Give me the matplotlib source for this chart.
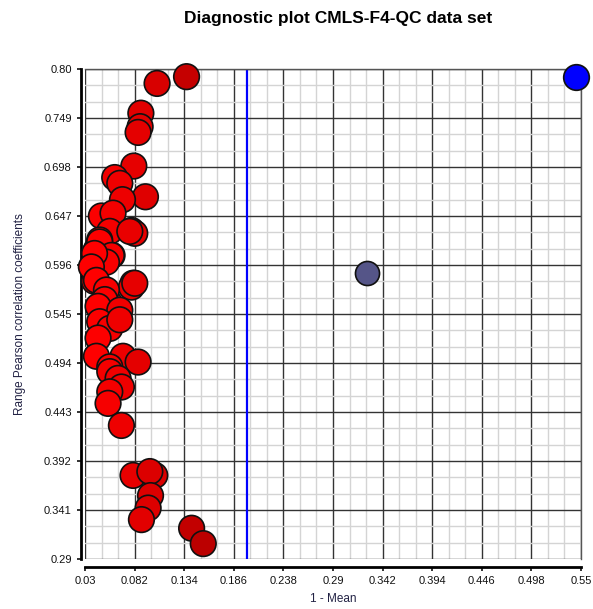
import numpy as np
import matplotlib.pyplot as plt
from matplotlib.ticker import FixedLocator, AutoMinorLocator

# 1 - Mean / Range Pearson correlation coefficients, per sample
mean_red = [0.1365, 0.1056, 0.0886, 0.0878, 0.0857, 0.0812, 0.0612, 0.0665,
            0.0934, 0.0693, 0.0472, 0.0594, 0.0787, 0.0822, 0.0560, 0.0454,
            0.0420, 0.0489, 0.0584, 0.0402, 0.0804, 0.0787, 0.0400, 0.0507,
            0.0560, 0.0770, 0.0454, 0.0577, 0.0525, 0.0400, 0.0367, 0.0822,
            0.0420, 0.0525, 0.0507, 0.0437, 0.0665, 0.0454, 0.0560, 0.0665,
            0.0437, 0.0420, 0.0699, 0.0857, 0.0560, 0.0560, 0.0647, 0.0682,
            0.0560, 0.0542, 0.0682, 0.0804, 0.1032, 0.0980, 0.0987, 0.0962,
            0.0892, 0.1418, 0.1540]
range_red = [0.792, 0.785, 0.754, 0.740, 0.734, 0.699, 0.687, 0.681,
             0.667, 0.664, 0.647, 0.650, 0.632, 0.629, 0.631, 0.622,
             0.612, 0.603, 0.606, 0.594, 0.577, 0.573, 0.579, 0.570,
             0.556, 0.631, 0.620, 0.606, 0.599, 0.608, 0.594, 0.577,
             0.580, 0.570, 0.560, 0.553, 0.549, 0.537, 0.530, 0.539,
             0.520, 0.501, 0.501, 0.495, 0.490, 0.485, 0.478, 0.469,
             0.464, 0.452, 0.429, 0.377, 0.377, 0.381, 0.356, 0.343,
             0.331, 0.322, 0.306]

mean_mid = [0.3256]
range_mid = [0.588]
mean_out = [0.5444]
range_out = [0.792]

threshold = 0.2

xticks = [0.03, 0.082, 0.134, 0.186, 0.238, 0.29, 0.342, 0.394, 0.446, 0.498, 0.55]
xlabels = ['0.03', '0.082', '0.134', '0.186', '0.238', '0.29', '0.342', '0.394',
           '0.446', '0.498', '0.55']
yticks = [0.29, 0.341, 0.392, 0.443, 0.494, 0.545, 0.596, 0.647, 0.698, 0.749, 0.80]
ylabels = ['0.29', '0.341', '0.392', '0.443', '0.494', '0.545', '0.596', '0.647',
           '0.698', '0.749', '0.80']

plt.rcParams['font.family'] = ['Liberation Sans', 'DejaVu Sans']

fig = plt.figure(figsize=(5.93, 6.09), dpi=100)
ax = fig.add_axes([0.1433, 0.0821, 0.8364, 0.8046])

ax.set_xlim(0.03, 0.55)
ax.set_ylim(0.29, 0.80)

ax.xaxis.set_major_locator(FixedLocator(xticks))
ax.yaxis.set_major_locator(FixedLocator(yticks))
ax.set_xticklabels(xlabels)
ax.set_yticklabels(ylabels)
ax.xaxis.set_minor_locator(AutoMinorLocator(3))
ax.yaxis.set_minor_locator(AutoMinorLocator(3))

ax.grid(which='minor', color='#d4d4d4', linewidth=1.0, zorder=0)
ax.grid(which='major', color='#333333', linewidth=1.0, zorder=1)
ax.set_axisbelow(True)

# 阈值线
ax.axvline(threshold, color='#0000ff', linewidth=1.6, zorder=2)

# 红点颜色随 x 变暗
t = (np.array(mean_red) - 0.04) / (0.155 - 0.04)
t = np.clip(t, 0, 1)
cols = [(1.0 - 0.27 * v, 0.0, 0.0) for v in t]
ax.scatter(mean_red, range_red, s=340, c=cols, edgecolors='#111111',
           linewidths=1.2, zorder=3, clip_on=False)
ax.scatter(mean_mid, range_mid, s=300, c='#555588', edgecolors='#111111',
           linewidths=1.2, zorder=3, clip_on=False)
ax.scatter(mean_out, range_out, s=340, c='#0000ff', edgecolors='#111111',
           linewidths=1.2, zorder=3, clip_on=False)

for side in ['top', 'right']:
    ax.spines[side].set_color('#555555')
    ax.spines[side].set_linewidth(1.0)
ax.spines['left'].set_position(('outward', 3))
ax.spines['bottom'].set_position(('outward', 6))
ax.spines['left'].set_linewidth(2)
ax.spines['bottom'].set_linewidth(2)

ax.tick_params(axis='both', which='major', direction='out', length=3,
               width=1.2, labelsize=8, colors='#111111')
ax.tick_params(axis='both', which='minor', length=0)

ax.set_xlabel('1 - Mean', fontsize=8.5, color='#222244', labelpad=5)
ax.set_ylabel('Range Pearson correlation coefficients', fontsize=8.5,
              color='#222244', labelpad=13)
fig.suptitle('Diagnostic plot CMLS-F4-QC data set', x=0.57, y=0.982,
             fontsize=12.5, fontweight='bold')

fig.savefig('out.png', dpi=100)
